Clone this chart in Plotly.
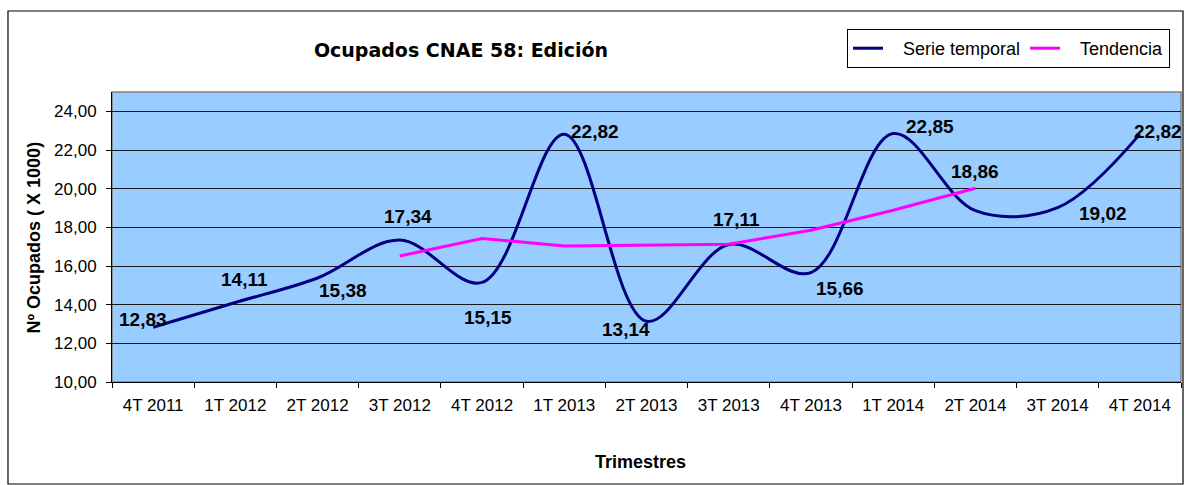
import plotly.graph_objects as go

# ---------------- data ----------------
categories = ["4T 2011", "1T 2012", "2T 2012", "3T 2012", "4T 2012", "1T 2013", "2T 2013",
              "3T 2013", "4T 2013", "1T 2014", "2T 2014", "3T 2014", "4T 2014"]
serie = [12.83, 14.11, 15.38, 17.34, 15.15, 22.82, 13.14, 17.11, 15.66, 22.85, 18.86, 19.02, 22.82]
tendencia = [None, None, None, 16.52, 17.42, 17.04, 17.10, 17.13, 17.85, 18.88, 20.02, None, None]
y_ticks = [10, 12, 14, 16, 18, 20, 22, 24]
series_names = ["Serie temporal", "Tendencia"]

# label offsets in pixels (style only)
label_dx = [-10, 9, 25, 8, 6, 31, -21, 8, 29, 37, 0, 45, 18]
label_dy = [8, 23, -13, 24, -35, 3, -8, 25, -16, 7, 39, -6, 3]

def fmt(v):
    return f"{v:.2f}".replace(".", ",")

# ---------------- layout geometry ----------------
W, H = 1186, 485
L, R, T, B = 112, 5, 92, 103
pw = W - L - R
ph = H - T - B

def px(xp):
    return (xp - L) / pw

def py(yp):
    return (H - B - yp) / ph

pad = "\u00a0\u00a0\u00a0"

fig = go.Figure()
fig.add_trace(go.Scatter(
    x=categories, y=serie, mode="lines", name=pad + series_names[0],
    line=dict(color="#000080", width=3, shape="spline", smoothing=1.0),
))
fig.add_trace(go.Scatter(
    x=categories, y=tendencia, mode="lines", name=pad + series_names[1],
    line=dict(color="#FF00FF", width=3), connectgaps=False,
))

annotations = []
for c, v, dx, dy in zip(categories, serie, label_dx, label_dy):
    annotations.append(dict(
        x=c, y=v, xref="x", yref="y", text=f"<b>{fmt(v)}</b>", showarrow=False,
        xshift=dx, yshift=dy, xanchor="center", yanchor="middle",
        font=dict(family="Liberation Sans", size=19, color="black"),
    ))

annotations.append(dict(
    x=px(33.5), y=py(238), xref="paper", yref="paper", text="<b>Nº Ocupados ( X 1000)</b>",
    textangle=-90, showarrow=False, xanchor="center", yanchor="middle",
    font=dict(family="Liberation Sans", size=18, color="black"),
))
annotations.append(dict(
    x=px(640), y=py(462), xref="paper", yref="paper", text="<b>Trimestres</b>",
    showarrow=False, xanchor="center", yanchor="middle",
    font=dict(family="Liberation Sans", size=18, color="black"),
))

shapes = [
    # plot area border (gray)
    dict(type="rect", xref="paper", yref="paper", x0=0, x1=1, y0=0, y1=1,
         line=dict(color="#808080", width=1.5), layer="below"),
    # chart frame
    dict(type="rect", xref="paper", yref="paper", x0=px(8), x1=px(1183), y0=py(484), y1=py(11),
         line=dict(color="black", width=1.2), layer="above"),
]

fig.update_layout(
    width=W, height=H,
    margin=dict(l=L, r=R, t=T, b=B, autoexpand=False),
    paper_bgcolor="white",
    plot_bgcolor="#99CCFF",
    title=dict(text="<b>Ocupados CNAE 58: Edición</b>", x=461 / W, y=1 - 50 / H,
               xref="container", yref="container", xanchor="center", yanchor="middle",
               font=dict(family="DejaVu Sans", size=19, color="black")),
    showlegend=True,
    legend=dict(orientation="h", x=px(847), y=py(29), xanchor="left", yanchor="top",
                bgcolor="white", bordercolor="black", borderwidth=1,
                font=dict(family="Liberation Sans", size=18, color="black")),
    annotations=annotations,
    shapes=shapes,
)

fig.update_xaxes(
    type="category", range=[-0.5, len(categories) - 0.5], tickson="boundaries",
    ticks="outside", ticklen=5, tickcolor="black", showgrid=False,
    showline=True, linecolor="black", linewidth=1,
    tickfont=dict(family="Liberation Sans", size=17, color="black"),
    ticklabelstandoff=8,
)
fig.update_yaxes(
    range=[10, 25], tickvals=y_ticks, ticktext=[fmt(v) for v in y_ticks],
    showgrid=True, gridcolor="#1a1a1a", gridwidth=1,
    ticks="outside", ticklen=5, tickcolor="black",
    showline=True, linecolor="black", linewidth=1, zeroline=False,
    tickfont=dict(family="Liberation Sans", size=17, color="black"),
    ticklabelstandoff=6,
)

fig.write_html("out.html", config={"displayModeBar": False},
               post_script="document.body.style.margin='0';document.body.style.overflow='hidden';")
